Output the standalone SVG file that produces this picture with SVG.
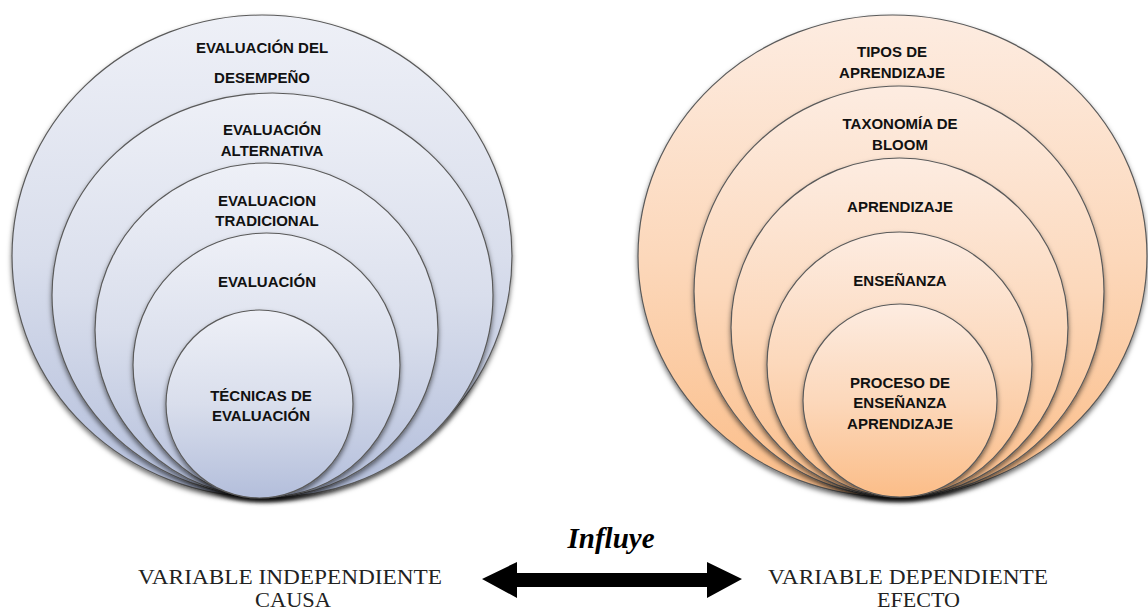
<svg xmlns="http://www.w3.org/2000/svg" width="1148" height="612" viewBox="0 0 1148 612">
<defs>
<linearGradient id="gb" x1="0" y1="0" x2="0" y2="1">
<stop offset="0" stop-color="#eef0f7"/>
<stop offset="0.5" stop-color="#d9deec"/>
<stop offset="1" stop-color="#b3bedb"/>
</linearGradient>
<linearGradient id="go" x1="0" y1="0" x2="0" y2="1">
<stop offset="0" stop-color="#fdece1"/>
<stop offset="0.5" stop-color="#fcd8bb"/>
<stop offset="1" stop-color="#fbbd88"/>
</linearGradient>
<filter id="sh" x="-10%" y="-10%" width="120%" height="125%">
<feDropShadow dx="0" dy="3" stdDeviation="2.5" flood-color="#000" flood-opacity="0.55"/>
</filter>
</defs>
<style>
.cb{fill:url(#gb);stroke:#5a5a5a;stroke-width:1.2;filter:url(#sh)}
.co{fill:url(#go);stroke:#5a5a5a;stroke-width:1.2;filter:url(#sh)}
.t{font-family:"Liberation Sans",Arial,sans-serif;font-weight:bold;font-size:15px;fill:#111;text-anchor:middle}
.v{font-family:"Liberation Serif","Times New Roman",serif;font-size:20px;fill:#222;text-anchor:start}
.inf{font-family:"Liberation Serif","Times New Roman",serif;font-size:29px;font-weight:bold;font-style:italic;fill:#000;text-anchor:middle}
</style>

<g id="left">
<g id="l1"><ellipse class="cb" cx="262" cy="256" rx="250" ry="241"/>
<text class="t" x="262" y="53">EVALUACIÓN DEL</text>
<text class="t" x="262" y="83">DESEMPEÑO</text></g>
<g id="l2"><ellipse class="cb" cx="272.5" cy="295" rx="220.5" ry="202"/>
<text class="t" x="272" y="135">EVALUACIÓN</text>
<text class="t" x="272" y="156">ALTERNATIVA</text></g>
<g id="l3"><ellipse class="cb" cx="266.5" cy="330" rx="171.5" ry="167"/>
<text class="t" x="267" y="206">EVALUACION</text>
<text class="t" x="267" y="226">TRADICIONAL</text></g>
<g id="l4"><ellipse class="cb" cx="266.5" cy="365" rx="133.5" ry="132"/>
<text class="t" x="267" y="287">EVALUACIÓN</text></g>
<g id="l5"><ellipse class="cb" cx="259.5" cy="404" rx="93.5" ry="94"/>
<text class="t" x="261" y="401">TÉCNICAS DE</text>
<text class="t" x="261" y="421">EVALUACIÓN</text></g>
</g>

<g id="right">
<g id="r1"><ellipse class="co" cx="892.5" cy="256" rx="254.5" ry="241"/>
<text class="t" x="892" y="57">TIPOS DE</text>
<text class="t" x="892" y="78">APRENDIZAJE</text></g>
<g id="r2"><ellipse class="co" cx="899" cy="291.5" rx="205" ry="205.5"/>
<text class="t" x="900" y="129">TAXONOMÍA DE</text>
<text class="t" x="900" y="150">BLOOM</text></g>
<g id="r3"><ellipse class="co" cx="899.5" cy="327.5" rx="168.5" ry="169.5"/>
<text class="t" x="900" y="212">APRENDIZAJE</text></g>
<g id="r4"><ellipse class="co" cx="899.5" cy="364.5" rx="132.5" ry="132.5"/>
<text class="t" x="900" y="286">ENSEÑANZA</text></g>
<g id="r5"><ellipse class="co" cx="900" cy="400.5" rx="97" ry="96.5"/>
<text class="t" x="900" y="388">PROCESO DE</text>
<text class="t" x="900" y="408">ENSEÑANZA</text>
<text class="t" x="900" y="429">APRENDIZAJE</text></g>
</g>

<g id="labels">
<text class="v" x="138" y="584" textLength="304" lengthAdjust="spacingAndGlyphs">VARIABLE INDEPENDIENTE</text>
<text class="v" x="255" y="607" textLength="76" lengthAdjust="spacingAndGlyphs">CAUSA</text>
<text class="v" x="768" y="584" textLength="280" lengthAdjust="spacingAndGlyphs">VARIABLE  DEPENDIENTE</text>
<text class="v" x="877" y="607" textLength="83" lengthAdjust="spacingAndGlyphs">EFECTO</text>
</g>

<g id="connectors">
<polygon points="482,579 517,562 517,573 707,573 707,562 742,579 707,598 707,587 517,587 517,598" fill="#000"/>
<text class="inf" x="611" y="548">Influye</text>
</g>
</svg>
